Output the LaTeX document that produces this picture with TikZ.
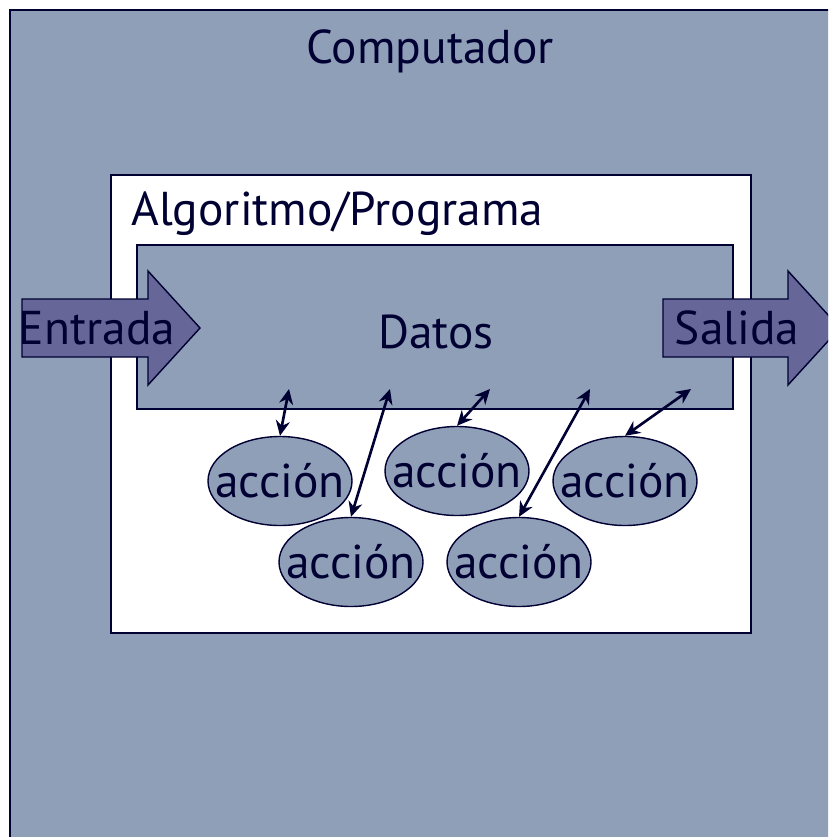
\documentclass[tikz,border=0pt]{standalone}
\usepackage{fontspec}
\setmainfont{PT Sans}
\usepackage{tikz}
\usetikzlibrary{shapes.geometric,arrows.meta}
\definecolor{fondo}{HTML}{8F9FB8}
\definecolor{flecha}{HTML}{666699}
\definecolor{tinta}{HTML}{000033}
\tikzset{>={Stealth[width=2.8mm,length=3mm]}}
\tikzset{etiqueta/.style={text=tinta,inner sep=0pt}}
\tikzset{accion/.style={shape=ellipse,draw=tinta,line width=0.8pt,fill=fondo,minimum width=2.88cm,minimum height=1.78cm,inner sep=0pt,label={[etiqueta]center:acción}}}
\tikzset{enlace/.style={<->,draw=tinta,fill=tinta,line width=1.5pt}}

\begin{document}
\begin{tikzpicture}[font=\fontsize{27}{31}\selectfont]

\clip (0,0) rectangle (16.56,-16.74);

\path[draw=tinta,line width=1.1pt,fill=fondo] (0.2,-0.2) rectangle (17,-17.2);
\path (8.6,-1.02) node (comp) [etiqueta]{Computador};

\path[draw=tinta,line width=0.8pt,fill=white] (2.22,-3.5) rectangle (15.02,-12.66);
\path (2.62,-4.28) node (alg) [etiqueta,anchor=west]{Algoritmo/Programa};

\path (8.7,-6.54) node (datos) [draw=tinta,line width=0.8pt,fill=fondo,minimum width=11.92cm,minimum height=3.28cm]{};
\path (8.72,-6.64) node (datostxt) [etiqueta]{Datos};

\path[draw=tinta,line width=0.8pt,fill=flecha] (0.44,-5.98) -- (2.96,-5.98) -- (2.96,-5.42) -- (4.0,-6.56) -- (2.96,-7.7) -- (2.96,-7.14) -- (0.44,-7.14) -- cycle;
\path (1.94,-6.56) node (entrada) [etiqueta]{Entrada};

\path[draw=tinta,line width=0.8pt,fill=flecha] (13.26,-5.98) -- (15.76,-5.98) -- (15.76,-5.42) -- (16.8,-6.56) -- (15.76,-7.7) -- (15.76,-7.14) -- (13.26,-7.14) -- cycle;
\path (14.74,-6.56) node (salida) [etiqueta]{Salida};

\path (5.6,-9.62) node (acc1) [accion]{};
\path (7.02,-11.24) node (acc2) [accion]{};
\path (9.14,-9.42) node (acc3) [accion]{};
\path (10.38,-11.24) node (acc4) [accion]{};
\path (12.5,-9.62) node (acc5) [accion]{};

\coordinate (d1) at (5.78,-7.78);
\coordinate (d2) at (7.8,-7.78);
\coordinate (d3) at (9.8,-7.78);
\coordinate (d4) at (11.8,-7.78);
\coordinate (d5) at (13.82,-7.78);

\draw[enlace] (d1) -- (acc1.north);
\draw[enlace] (d2) -- (acc2.north);
\draw[enlace] (d3) -- (acc3.north);
\draw[enlace] (d4) -- (acc4.north);
\draw[enlace] (d5) -- (acc5.north);

\end{tikzpicture}
\end{document}
